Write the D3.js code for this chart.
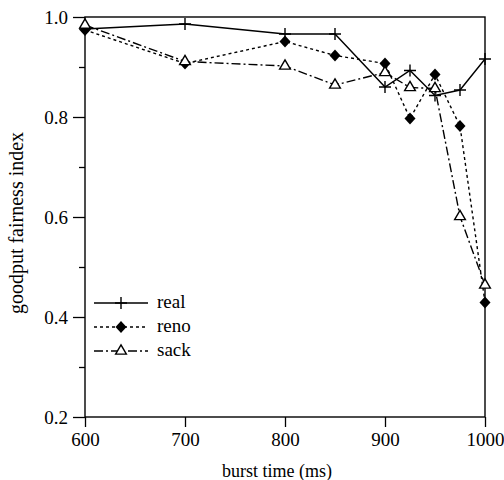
<!DOCTYPE html>
<html>
<head>
<meta charset="utf-8">
<script src="https://cdn.jsdelivr.net/npm/d3@7"></script>
<style>
  body { margin: 0; background: #fff; }
  svg { font-family: "Liberation Serif", "DejaVu Serif", serif; }
</style>
</head>
<body>
<svg width="504" height="480"></svg>
<script>
// data
var burst = [600, 700, 800, 850, 900, 925, 950, 975, 1000];
var real = [0.976, 0.986, 0.966, 0.966, 0.860, 0.893, 0.843, 0.854, 0.916];
var reno = [0.974, 0.907, 0.951, 0.923, 0.907, 0.797, 0.885, 0.782, 0.429];
var sack = [0.984, 0.911, 0.902, 0.864, 0.889, 0.859, 0.857, 0.601, 0.464];
var seriesNames = ["real", "reno", "sack"];
var xTicks = [600, 700, 800, 900, 1000];
var yTicks = [0.2, 0.4, 0.6, 0.8, 1.0];

var svg = d3.select("svg");
var pLeft = 85, pRight = 485, pTop = 17, pBottom = 417;

var x = d3.scaleLinear().domain([600, 1000]).range([pLeft, pRight]);
var y = d3.scaleLinear().domain([0.2, 1.0]).range([pBottom, pTop]);

// frame
svg.append("rect")
   .attr("x", pLeft).attr("y", pTop)
   .attr("width", pRight - pLeft).attr("height", pBottom - pTop)
   .attr("fill", "none").attr("stroke", "#000").attr("stroke-width", 1.4);

// y axis: major + minor ticks
var yAxis = d3.axisLeft(y).tickValues(yTicks).tickFormat(d3.format(".1f")).tickSize(12).tickPadding(5);
var gy = svg.append("g").attr("transform", "translate(" + pLeft + ",0)").call(yAxis);
gy.selectAll(".domain").remove();
gy.selectAll("text").attr("font-size", 19).attr("font-family", "Liberation Serif").attr("fill", "#000");
gy.selectAll("line").attr("stroke-width", 1.3);
var gyMinor = svg.append("g").attr("transform", "translate(" + pLeft + ",0)")
   .call(d3.axisLeft(y).tickValues([0.3, 0.5, 0.7, 0.9]).tickSize(6).tickFormat(""));
gyMinor.selectAll(".domain").remove();
gyMinor.selectAll("line").attr("stroke-width", 1.3);

// x axis
var xAxis = d3.axisBottom(x).tickValues(xTicks).tickFormat(d3.format("d")).tickSize(10).tickPadding(6);
var gx = svg.append("g").attr("transform", "translate(0," + pBottom + ")").call(xAxis);
gx.selectAll(".domain").remove();
gx.selectAll("text").attr("font-size", 19).attr("font-family", "Liberation Serif").attr("fill", "#000");
gx.selectAll("line").attr("stroke-width", 1.3);

// titles
svg.append("text").attr("x", 277).attr("y", 477).attr("text-anchor", "middle")
   .attr("font-size", 18).text("burst time (ms)");
svg.append("text").attr("transform", "translate(23,223) rotate(-90)").attr("text-anchor", "middle")
   .attr("font-size", 20).text("goodput fairness index");

var styles = {
  real: { dash: null, marker: "plus" },
  reno: { dash: "3,3", marker: "diamond" },
  sack: { dash: "9,3,2,3", marker: "triangle" }
};
var values = { real: real, reno: reno, sack: sack };

var line = d3.line().x(function(d) { return x(d[0]); }).y(function(d) { return y(d[1]); });

function drawMarker(g, kind, cx, cy) {
  if (kind == "plus") {
    g.append("path").attr("d", "M" + (cx - 6) + "," + cy + "h12M" + cx + "," + (cy - 6) + "v12")
     .attr("stroke", "#000").attr("stroke-width", 1.4).attr("fill", "none");
  } else if (kind == "diamond") {
    g.append("path").attr("d", "M0,-6L5.5,0L0,6L-5.5,0Z")
     .attr("transform", "translate(" + cx + "," + cy + ")").attr("fill", "#000");
  } else {
    g.append("path").attr("d", d3.symbol().type(d3.symbolTriangle).size(50)())
     .attr("transform", "translate(" + cx + "," + cy + ")")
     .attr("fill", "#fff").attr("stroke", "#000").attr("stroke-width", 1.4);
  }
}

seriesNames.forEach(function(name) {
  var pts = burst.map(function(b, i) { return [b, values[name][i]]; });
  var g = svg.append("g");
  g.append("path").attr("d", line(pts))
   .attr("fill", "none").attr("stroke", "#000").attr("stroke-width", 1.4)
   .attr("stroke-dasharray", styles[name].dash);
  pts.forEach(function(p) { drawMarker(g, styles[name].marker, x(p[0]), y(p[1])); });
});

// legend
var legendY = [303, 327, 351];
seriesNames.forEach(function(name, i) {
  var g = svg.append("g");
  g.append("line").attr("x1", 94).attr("x2", 148).attr("y1", legendY[i]).attr("y2", legendY[i])
   .attr("stroke", "#000").attr("stroke-width", 1.4).attr("stroke-dasharray", styles[name].dash);
  drawMarker(g, styles[name].marker, 121, legendY[i]);
  g.append("text").attr("x", 157).attr("y", legendY[i] + 5).attr("font-size", 19).text(name);
});
</script>
</body>
</html>
